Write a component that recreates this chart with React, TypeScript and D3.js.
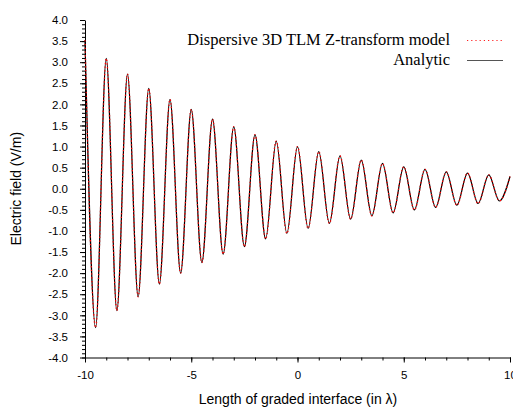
import React, { useEffect, useRef } from 'react';
import * as d3 from 'd3';

// positions of the extrema along the interface (in wavelengths)
const extremaX = [
  -10, -9.5, -9, -8.5, -8, -7.5, -7, -6.5, -6, -5.5, -5, -4.5, -4, -3.5, -3, -2.5, -2, -1.5, -1, -0.5,
  0, 0.5, 1, 1.5, 2, 2.5, 3, 3.5, 4, 4.5, 5, 5.5, 6, 6.5, 7, 7.5, 8, 8.5, 9, 9.5, 10,
];

// field value (V/m) read at each extremum
const analyticValues = [
  3.52, -3.29, 3.09, -2.89, 2.72, -2.56, 2.38, -2.26, 2.12, -2.0, 1.88, -1.75, 1.65, -1.55, 1.47, -1.37,
  1.28, -1.19, 1.13, -1.06, 1.0, -0.94, 0.88, -0.82, 0.78, -0.72, 0.68, -0.64, 0.6, -0.57, 0.52, -0.5,
  0.46, -0.44, 0.4, -0.39, 0.37, -0.35, 0.33, -0.29, 0.29,
];

// the TLM result sits on top of the analytic curve
const tlmValues = analyticValues;

const xTicks = [-10, -5, 0, 5, 10];
const yTicks = [-4, -3.5, -3, -2.5, -2, -1.5, -1, -0.5, 0, 0.5, 1, 1.5, 2, 2.5, 3, 3.5, 4];

const legendLabels = ['Dispersive 3D TLM Z-transform model', 'Analytic'];

const App = () => {
  const svgRef = useRef<SVGSVGElement>(null);

  useEffect(() => {
    const svg = d3.select(svgRef.current);
    svg.selectAll('*').remove();

    const x = d3.scaleLinear().domain([-10, 10]).range([85, 510]);
    const y = d3.scaleLinear().domain([-4, 4]).range([357.5, 20]);

    const sans = '"Liberation Sans", Arial, sans-serif';
    const serif = '"Liberation Serif", "Times New Roman", serif';

    // minor ticks
    svg.append('g')
      .attr('transform', `translate(0,${y(-4)})`)
      .call(d3.axisBottom(x).tickValues(d3.range(-10, 10.01, 1)).tickSize(3).tickFormat(() => ''))
      .call(g => g.select('.domain').remove());

    svg.append('g')
      .attr('transform', `translate(${x(-10)},0)`)
      .call(d3.axisLeft(y).tickValues(d3.range(-40, 41).map(d => d / 10)).tickSize(3).tickFormat(() => ''))
      .call(g => g.select('.domain').remove());

    // major ticks + labels (plain hyphen for negatives, like the original)
    const xAxis = svg.append('g')
      .attr('transform', `translate(0,${y(-4)})`)
      .call(d3.axisBottom(x).tickValues(xTicks).tickSize(5).tickSizeOuter(0).tickPadding(8)
        .tickFormat(d => String(d)));

    const yAxis = svg.append('g')
      .attr('transform', `translate(${x(-10)},0)`)
      .call(d3.axisLeft(y).tickValues(yTicks).tickSize(5).tickSizeOuter(0).tickPadding(12)
        .tickFormat(d => (+d).toFixed(1)));

    [xAxis, yAxis].forEach(g => {
      g.selectAll('text').attr('font-family', sans).attr('font-size', 11.5).attr('fill', '#000');
      g.select('.domain').attr('stroke', '#000');
    });
    svg.selectAll('.tick line').attr('stroke', '#000');

    // axis titles
    svg.append('text')
      .attr('x', 298)
      .attr('y', 404)
      .attr('text-anchor', 'middle')
      .attr('font-family', sans)
      .attr('font-size', 14)
      .text('Length of graded interface (in λ)');

    svg.append('text')
      .attr('transform', `translate(21,${y(0)}) rotate(-90)`)
      .attr('text-anchor', 'middle')
      .attr('font-family', sans)
      .attr('font-size', 14)
      .text('Electric field (V/m)');

    const line = d3.line<number>()
      .x((_, i) => x(extremaX[i]))
      .y(d => y(d))
      .curve(d3.curveMonotoneX);

    svg.append('path')
      .datum(analyticValues)
      .attr('fill', 'none')
      .attr('stroke', '#000')
      .attr('stroke-width', 1.2)
      .attr('d', line);

    svg.append('path')
      .datum(tlmValues)
      .attr('fill', 'none')
      .attr('stroke', '#ff0000')
      .attr('stroke-width', 1.3)
      .attr('stroke-dasharray', '1.3,2.4')
      .attr('d', line);

    // legend
    const legend = svg.append('g');
    legendLabels.forEach((label, i) => {
      const ly = 45 + i * 20;
      legend.append('text')
        .attr('x', 450)
        .attr('y', ly)
        .attr('text-anchor', 'end')
        .attr('font-family', serif)
        .attr('font-size', 16.5)
        .text(label);
      legend.append('line')
        .attr('x1', 467)
        .attr('x2', 503)
        .attr('y1', ly - 4.5)
        .attr('y2', ly - 4.5)
        .attr('stroke', i === 0 ? '#ff2020' : '#555')
        .attr('stroke-width', i === 0 ? 1.2 : 1.2)
        .attr('stroke-dasharray', i === 0 ? '1.2,3' : null);
    });
  }, []);

  return (
    <svg
      ref={svgRef}
      width={513}
      height={407}
      style={{ position: 'absolute', left: 0, top: 0, background: '#fff' }}
    />
  );
};

export default App;
